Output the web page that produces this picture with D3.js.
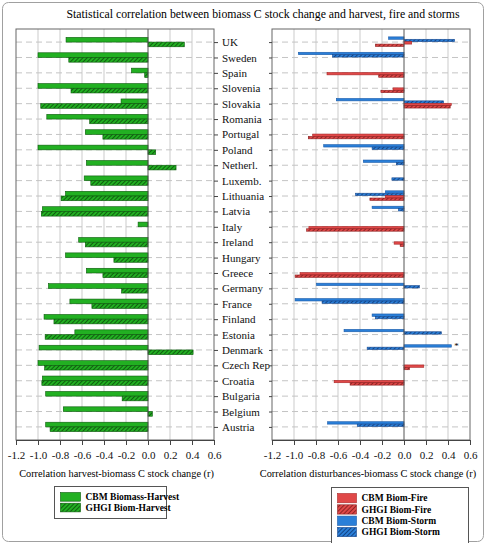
<!DOCTYPE html>
<html>
<head>
<meta charset="utf-8">
<script src="https://cdn.jsdelivr.net/npm/d3@7"></script>
<style>
  body { margin: 0; background: #fff; }
  svg { display: block; font-family: "Liberation Serif", "Times New Roman", serif; }
</style>
</head>
<body>
<svg id="chart"></svg>
<script>
// Chart data
const countries = ["UK", "Sweden", "Spain", "Slovenia", "Slovakia", "Romania", "Portugal",
  "Poland", "Netherl.", "Luxemb.", "Lithuania", "Latvia", "Italy", "Ireland", "Hungary",
  "Greece", "Germany", "France", "Finland", "Estonia", "Denmark", "Czech Rep", "Croatia",
  "Bulgaria", "Belgium", "Austria"];

const cbmHarvest = [-0.745, -1.0, -0.15, -1.0, -0.245, -0.92, -0.57, -1.0, -0.56, -0.58, -0.75,
  -0.96, -0.09, -0.63, -0.75, -0.56, -0.905, -0.71, -0.945, -0.665, -0.99, -1.0, -0.96,
  -0.93, -0.77, -0.93];
const ghgiHarvest = [0.33, -0.72, -0.03, -0.70, -0.975, -0.53, -0.41, 0.07, 0.255, -0.52, -0.79,
  -0.97, null, -0.57, -0.31, -0.41, -0.24, -0.51, -0.855, -0.935, 0.41, -0.94, -0.965,
  -0.235, 0.04, -0.89];

const cbmFire = [0.07, null, -0.70, -0.10, 0.43, null, -0.83, null, null, null, -0.17,
  null, -0.865, -0.09, null, -0.945, null, null, null, null, null, 0.18, -0.635,
  null, null, null];
const ghgiFire = [-0.26, null, -0.23, -0.21, 0.42, null, -0.87, null, null, null, -0.31,
  null, -0.885, -0.035, null, -0.99, null, null, null, null, null, 0.05, -0.49,
  null, null, null];
const cbmStorm = [-0.14, -0.96, null, null, -0.615, null, null, -0.73, -0.37, null, -0.17,
  -0.29, null, null, null, null, -0.795, -0.99, -0.29, -0.545, 0.43, null, null,
  null, null, -0.695];
const ghgiStorm = [0.46, -0.65, null, null, 0.36, null, null, -0.29, -0.07, -0.11, -0.44,
  -0.05, null, null, null, null, 0.14, -0.745, -0.26, 0.34, -0.335, null, null,
  null, null, -0.425];

const xTicks = [-1.2, -1.0, -0.8, -0.6, -0.4, -0.2, 0.0, 0.2, 0.4, 0.6];

// Layout
const W = 486, H = 543;
const plotTop = 29, plotBottom = 440;
const leftPanel = { x0: 16, x1: 214, titleX: 116.5 };
const rightPanel = { x0: 272, x1: 470, titleX: 368 };

const svg = d3.select("#chart").attr("width", W).attr("height", H);
const defs = svg.append("defs");

// Diagonal hatch patterns
function hatch(id, base, line) {
  const p = defs.append("pattern")
    .attr("id", id)
    .attr("patternUnits", "userSpaceOnUse")
    .attr("width", 3)
    .attr("height", 3)
    .attr("patternTransform", "rotate(45)");
  p.append("rect").attr("width", 3).attr("height", 3).attr("fill", base);
  p.append("line").attr("x1", 0).attr("y1", 0).attr("x2", 0).attr("y2", 3)
    .attr("stroke", line).attr("stroke-width", 1.6);
}
hatch("hGreen", "#22b022", "#0b4a0b");
hatch("hRed", "#e04848", "#7a1a1a");
hatch("hBlue", "#2a7fd8", "#0c3570");

// Outer frame
svg.append("rect")
  .attr("x", 2.5).attr("y", 2.5)
  .attr("width", W - 5).attr("height", H - 4)
  .attr("rx", 6)
  .attr("fill", "none")
  .attr("stroke", "#a0a0a0");

// Title
svg.append("text")
  .attr("x", 263).attr("y", 17.5)
  .attr("text-anchor", "middle")
  .style("font-size", "11.8px")
  .text("Statistical correlation between biomass C stock change and harvest, fire and storms");

const y = d3.scalePoint().domain(countries).range([plotTop, plotBottom]).padding(0.85);

function drawPanel(panel, series, axisSide, label) {
  const x = d3.scaleLinear().domain([-1.2, 0.6]).range([panel.x0, panel.x1]);
  const g = svg.append("g");

  // vertical grid
  g.selectAll(".vgrid")
    .data(xTicks.filter((d) => d > -1.2 && d < 0.6 && d !== 0))
    .enter().append("line")
    .attr("x1", (d) => x(d)).attr("x2", (d) => x(d))
    .attr("y1", plotTop).attr("y2", plotBottom)
    .attr("stroke", "#d4d4d4").attr("stroke-width", 1.2);

  // horizontal dashed grid
  g.selectAll(".hgrid")
    .data(countries)
    .enter().append("line")
    .attr("x1", panel.x0).attr("x2", panel.x1)
    .attr("y1", (d) => y(d)).attr("y2", (d) => y(d))
    .attr("stroke", "#c4c4c4")
    .attr("stroke-dasharray", "6,4");

  // bars
  const barH = series.barH;
  series.list.forEach((s, k) => {
    const off = series.offset + k * barH;
    g.selectAll(null)
      .data(countries.map((c, i) => ({ c, v: s.values[i] })).filter((d) => d.v !== null))
      .enter().append("rect")
      .attr("x", (d) => x(Math.min(0, d.v)))
      .attr("y", (d) => y(d.c) + off)
      .attr("width", (d) => Math.abs(x(d.v) - x(0)))
      .attr("height", barH)
      .attr("fill", s.fill)
      .attr("stroke", s.stroke)
      .attr("stroke-width", 0.6);
  });

  // zero line
  g.append("line")
    .attr("x1", x(0)).attr("x2", x(0))
    .attr("y1", plotTop).attr("y2", plotBottom)
    .attr("stroke", "#555").attr("stroke-width", 1);

  // frame
  g.append("rect")
    .attr("x", panel.x0).attr("y", plotTop)
    .attr("width", panel.x1 - panel.x0).attr("height", plotBottom - plotTop)
    .attr("fill", "none").attr("stroke", "#666").attr("stroke-width", 1);

  // x axis
  const xa = g.append("g")
    .attr("transform", `translate(0,${plotBottom})`)
    .call(d3.axisBottom(x).tickValues(xTicks).tickSize(5).tickPadding(6)
      .tickFormat((d) => d.toFixed(1)));
  xa.select(".domain").attr("stroke", "#444");
  xa.selectAll("line").attr("stroke", "#444");
  xa.selectAll("text")
    .style("font-family", "Liberation Serif, serif")
    .style("font-size", "11px").attr("fill", "#111");

  // category axis
  if (axisSide === "right") {
    const ya = g.append("g")
      .attr("transform", `translate(${panel.x1},0)`)
      .call(d3.axisRight(y).tickSize(4).tickPadding(4));
    ya.select(".domain").remove();
    ya.selectAll("line").attr("stroke", "#444");
    ya.selectAll("text")
      .style("font-family", "Liberation Serif, serif")
      .style("font-size", "11px").attr("fill", "#111");
  } else {
    const ya = g.append("g")
      .attr("transform", `translate(${panel.x0},0)`)
      .call(d3.axisLeft(y).tickSize(3).tickFormat(""));
    ya.select(".domain").remove();
    ya.selectAll("line").attr("stroke", "#444");
  }

  // axis title
  svg.append("text")
    .attr("x", panel.titleX)
    .attr("y", 477)
    .attr("text-anchor", "middle")
    .style("font-size", "10.3px")
    .text(label);

  return x;
}

drawPanel(leftPanel, {
  barH: 4.7, offset: -4.7,
  list: [
    { values: cbmHarvest, fill: "#22b022", stroke: "#0b5a0b" },
    { values: ghgiHarvest, fill: "url(#hGreen)", stroke: "#0b5a0b" }
  ]
}, "right", "Correlation harvest-biomass C stock change (r)");

const xR = drawPanel(rightPanel, {
  barH: 2.4, offset: -5.2,
  list: [
    { values: cbmStorm, fill: "#2a7fd8", stroke: "#1a5aa8" },
    { values: ghgiStorm, fill: "url(#hBlue)", stroke: "#1a4a90" },
    { values: cbmFire, fill: "#e04848", stroke: "#a82828" },
    { values: ghgiFire, fill: "url(#hRed)", stroke: "#902020" }
  ]
}, "left", "Correlation disturbances-biomass C stock change (r)");

// significance marker on Denmark storm bar
svg.append("text")
  .attr("x", xR(cbmStorm[countries.indexOf("Denmark")]) + 3)
  .attr("y", y("Denmark") - 0.5)
  .style("font-size", "9px")
  .text("*");

// Legends
function legend(x0, y0, w, h, items) {
  const g = svg.append("g");
  g.append("rect")
    .attr("x", x0).attr("y", y0).attr("width", w).attr("height", h)
    .attr("fill", "#fff").attr("stroke", "#555");
  items.forEach((it, i) => {
    const yy = y0 + 6 + i * it.step;
    g.append("rect")
      .attr("x", x0 + 6).attr("y", yy)
      .attr("width", it.sw).attr("height", it.step - 2)
      .attr("fill", it.fill).attr("stroke", it.stroke).attr("stroke-width", 0.6);
    g.append("text")
      .attr("x", x0 + it.sw + 11).attr("y", yy + (it.step - 2) / 2 + 3.3)
      .style("font-size", "9.5px").style("font-weight", "bold")
      .text(it.name);
  });
}

legend(54.5, 486.5, 112, 32, [
  { name: "CBM Biomass-Harvest", fill: "#22b022", stroke: "#0b5a0b", sw: 20, step: 10.7 },
  { name: "GHGI Biom-Harvest", fill: "url(#hGreen)", stroke: "#0b5a0b", sw: 20, step: 10.7 }
]);

legend(331.5, 487.5, 137, 60, [
  { name: "CBM Biom-Fire", fill: "#e04848", stroke: "#a82828", sw: 19, step: 11.3 },
  { name: "GHGI Biom-Fire", fill: "url(#hRed)", stroke: "#902020", sw: 19, step: 11.3 },
  { name: "CBM Biom-Storm", fill: "#2a7fd8", stroke: "#1a5aa8", sw: 19, step: 11.3 },
  { name: "GHGI Biom-Storm", fill: "url(#hBlue)", stroke: "#1a4a90", sw: 19, step: 11.3 }
]);
</script>
</body>
</html>
